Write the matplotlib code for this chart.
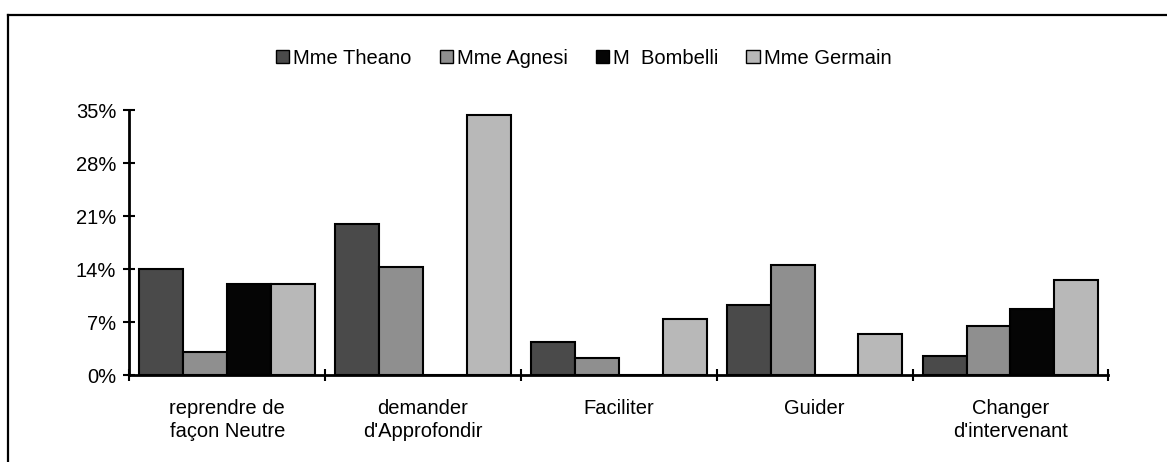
import matplotlib
matplotlib.use("Agg")
import matplotlib.pyplot as plt
from matplotlib.patches import Patch
from matplotlib.lines import Line2D
import numpy as np

# Chart data (percent of interventions per teacher)
categories = ["reprendre de\nfaçon Neutre", "demander\nd'Approfondir", "Faciliter",
              "Guider", "Changer\nd'intervenant"]
series_names = ["Mme Theano", "Mme Agnesi", "M  Bombelli", "Mme Germain"]
theano = [14, 20, 4.3, 9.3, 2.5]
agnesi = [3, 14.3, 2.3, 14.5, 6.5]
bombelli = [12, 0, 0, 0, 8.7]
germain = [12, 34.3, 7.4, 5.4, 12.5]
y_ticks = [0, 7, 14, 21, 28, 35]
y_tick_labels = ["0%", "7%", "14%", "21%", "28%", "35%"]

series = [theano, agnesi, bombelli, germain]
colors = ["#4a4a4a", "#8f8f8f", "#050505", "#b8b8b8"]

plt.rcParams["font.family"] = ["Liberation Sans", "DejaVu Sans"]
FS = 14.5

fig = plt.figure(figsize=(11.67, 4.62), dpi=100)
ax = fig.add_axes([0.1108, 0.1883, 0.8389, 0.5736])

n = len(series)
bar_w = 0.224
centers = np.arange(len(categories)) + 0.5
for i, (vals, col) in enumerate(zip(series, colors)):
    ax.bar(centers + (i - (n - 1) / 2) * bar_w, vals, width=bar_w, color=col,
           edgecolor="black", linewidth=1.5, zorder=2)

ax.set_xlim(0, len(categories))
ax.set_ylim(0, 35)
ax.set_yticks(y_ticks)
ax.set_yticklabels(y_tick_labels, fontsize=FS)

# category boundaries carry the tick marks, labels sit at the centres
ax.set_xticks(np.arange(len(categories) + 1))
ax.set_xticklabels([])
ax.set_xticks(centers, minor=True)
ax.set_xticklabels(categories, minor=True, fontsize=FS, linespacing=1.3)
ax.tick_params(axis="x", which="minor", length=0, pad=17)
ax.tick_params(axis="x", which="major", direction="inout", length=9, width=1.5)
ax.tick_params(axis="y", direction="inout", length=9, width=1.5, pad=5)

for side in ("top", "right"):
    ax.spines[side].set_visible(False)
for side in ("left", "bottom"):
    ax.spines[side].set_linewidth(2)

handles = [Patch(facecolor=c, edgecolor="black", linewidth=1) for c in colors]
fig.legend(handles, series_names, loc="center", bbox_to_anchor=(0.5, 0.874),
           ncol=4, frameon=False, fontsize=FS, handlelength=0.65,
           handleheight=0.65, handletextpad=0.2, columnspacing=1.4)

# outer chart frame (top and left edges)
fig.add_artist(Line2D([0.0069, 1.0], [0.9675, 0.9675], color="black", linewidth=1.6))
fig.add_artist(Line2D([0.0069, 0.0069], [0.0, 0.9675], color="black", linewidth=1.6))

fig.savefig("out.png", dpi=100)
